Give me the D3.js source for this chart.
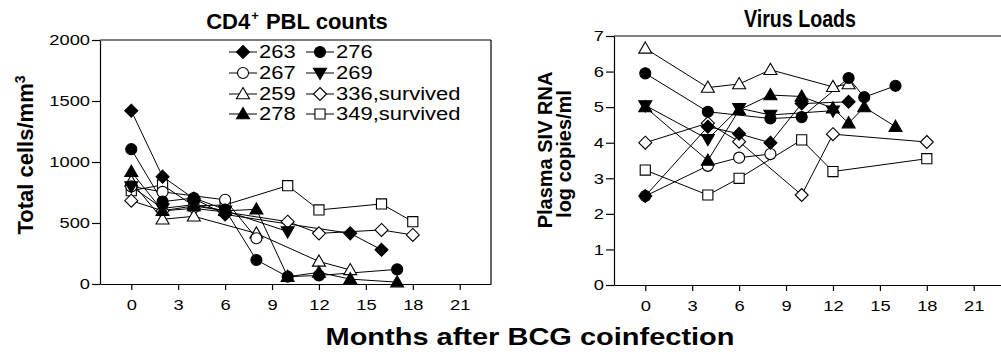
<!DOCTYPE html>
<html>
<head>
<meta charset="utf-8">
<script src="https://cdn.jsdelivr.net/npm/d3@7/dist/d3.min.js"></script>
<style>
  html, body { margin: 0; padding: 0; background: #fff; }
  svg { display: block; font-family: "Liberation Sans", Arial, sans-serif; }
</style>
</head>
<body>
<script>
// Tick labels
const monthTicks = [0, 3, 6, 9, 12, 15, 18, 21]
const cd4Ticks = [0, 500, 1000, 1500, 2000]
const rnaTicks = [0, 1, 2, 3, 4, 5, 6, 7]

// Animals (legend order) and marker style
const animals = ['263', '267', '259', '278', '276', '269', '336,survived', '349,survived']
const markers = ['diamond', 'circle', 'triangle', 'triangle', 'circle', 'triangleDown', 'diamond', 'square']
const filled = [true, false, false, true, true, true, false, false]

// CD4+ PBL counts: [month, cells/mm3]
const cd4_263 = [[0, 1420], [2, 880], [4, 700], [6, 570], [14, 415], [16, 280]]
const cd4_267 = [[0, 800], [2, 755], [6, 690], [8, 375]]
const cd4_259 = [[0, 840], [2, 530], [4, 555], [8, 415], [12, 185], [14, 115]]
const cd4_278 = [[0, 920], [2, 600], [4, 640], [6, 600], [8, 612], [10, 60], [12, 95], [14, 40], [17, 15]]
const cd4_276 = [[0, 1105], [2, 675], [4, 705], [6, 610], [8, 197], [10, 60], [12, 70], [17, 120]]
const cd4_269 = [[0, 800], [2, 620], [4, 650], [6, 600], [10, 430]]
const cd4_336 = [[0, 683], [2, 600], [4, 620], [6, 590], [10, 511], [12, 415], [16, 443], [18, 402]]
const cd4_349 = [[0, 765], [2, 812], [4, 640], [6, 648], [10, 806], [12, 607], [16, 656], [18, 511]]

// Plasma SIV RNA: [month, log copies/ml]
const rna_263 = [[0, 2.5], [4, 4.45], [6, 4.25], [8, 4.0], [10, 5.1], [13, 5.15]]
const rna_267 = [[0, 2.5], [4, 3.35], [6, 3.58], [8, 3.68]]
const rna_259 = [[0, 6.65], [4, 5.55], [6, 5.65], [8, 6.05], [12, 5.57], [13, 5.65]]
const rna_278 = [[0, 5.0], [4, 3.5], [6, 4.92], [8, 5.34], [10, 5.3], [12, 4.97], [13, 4.55], [14, 5.0], [16, 4.45]]
const rna_276 = [[0, 5.95], [4, 4.87], [8, 4.68], [10, 4.72], [13, 5.82], [14, 5.28], [16, 5.6]]
const rna_269 = [[0, 5.05], [4, 4.1], [6, 4.97], [8, 4.78], [12, 4.9]]
const rna_336 = [[0, 4.0], [4, 4.55], [6, 4.03], [10, 2.53], [12, 4.24], [18, 4.02]]
const rna_349 = [[0, 3.23], [4, 2.53], [6, 3.0], [10, 4.08], [12, 3.19], [18, 3.55]]

const cd4Series = [cd4_263, cd4_267, cd4_259, cd4_278, cd4_276, cd4_269, cd4_336, cd4_349]
const rnaSeries = [rna_263, rna_267, rna_259, rna_278, rna_276, rna_269, rna_336, rna_349]

const W = 1001, H = 360
const WIDE = 1.22 // horizontal text in the scan is a bit stretched

const svg = d3.select('body').append('svg')
  .attr('width', W)
  .attr('height', H)

function stretch(sel, k) {
  sel.each(function () {
    const len = this.getComputedTextLength()
    d3.select(this).attr('textLength', len * k).attr('lengthAdjust', 'spacingAndGlyphs')
  })
}

// custom marker shapes, size = half extent
const shapes = {
  diamond: { draw(ctx, r) { ctx.moveTo(0, -r); ctx.lineTo(r, 0); ctx.lineTo(0, r); ctx.lineTo(-r, 0); ctx.closePath() } },
  circle: { draw(ctx, r) { const c = r * 0.85; ctx.moveTo(c, 0); ctx.arc(0, 0, c, 0, 2 * Math.PI) } },
  triangle: { draw(ctx, r) { ctx.moveTo(0, -r); ctx.lineTo(r, r * 0.72); ctx.lineTo(-r, r * 0.72); ctx.closePath() } },
  triangleDown: { draw(ctx, r) { ctx.moveTo(0, r); ctx.lineTo(r, -r * 0.72); ctx.lineTo(-r, -r * 0.72); ctx.closePath() } },
  square: { draw(ctx, r) { const s = r * 0.78; ctx.rect(-s, -s, 2 * s, 2 * s) } }
}
const markerPath = i => d3.symbol().type(shapes[markers[i]]).size(6.5)()

function drawPanel(x, y, yTicks, series) {
  const g = svg.append('g')

  // frame
  const [x0, x1] = x.range()
  const [yb, yt] = y.range()
  g.append('line')
    .attr('x1', x0).attr('x2', x1).attr('y1', yt).attr('y2', yt)
    .attr('stroke', '#000').attr('stroke-width', 1.2)
  g.append('line')
    .attr('x1', x1).attr('x2', x1).attr('y1', yt).attr('y2', yb)
    .attr('stroke', '#000').attr('stroke-width', 1.2)

  const yAxis = g.append('g')
    .attr('transform', `translate(${x0},0)`)
    .call(d3.axisLeft(y).tickValues(yTicks).tickFormat(d3.format('d'))
      .tickSize(8).tickPadding(2).tickSizeOuter(0))
  const xAxis = g.append('g')
    .attr('transform', `translate(0,${yb})`)
    .call(d3.axisBottom(x).tickValues(monthTicks).tickFormat(d3.format('d'))
      .tickSize(6).tickPadding(9).tickSizeOuter(0))

  ;[yAxis, xAxis].forEach(a => {
    a.selectAll('path, line').attr('stroke', '#000').attr('stroke-width', 1.2)
    a.selectAll('text')
      .attr('fill', '#000')
      .style('font-size', '15px')
      .style('font-family', '"Liberation Sans", Arial, sans-serif')
      .call(stretch, WIDE)
  })

  const line = d3.line().x(d => x(d[0])).y(d => y(d[1]))

  // lines first, then open markers, then filled ones on top
  g.selectAll('path.series')
    .data(series)
    .join('path')
    .attr('class', 'series')
    .attr('d', line)
    .attr('fill', 'none')
    .attr('stroke', '#000')
    .attr('stroke-width', 1)

  const order = [7, 6, 2, 1, 0, 4, 5, 3]
  order.forEach(i => {
    g.selectAll(null)
      .data(series[i])
      .join('path')
      .attr('transform', d => `translate(${x(d[0])},${y(d[1])})`)
      .attr('d', markerPath(i))
      .attr('fill', filled[i] ? '#000' : '#fff')
      .attr('stroke', '#000')
      .attr('stroke-width', 1.1)
  })
}

const xL = d3.scaleLinear().domain([-2, 23]).range([100, 491])
const yL = d3.scaleLinear().domain([0, 2000]).range([284, 40])
const xR = d3.scaleLinear().domain([-2, 23]).range([614, 1005])
const yR = d3.scaleLinear().domain([0, 7]).range([285, 36])

drawPanel(xL, yL, cd4Ticks, cd4Series)
drawPanel(xR, yR, rnaTicks, rnaSeries)

// Legend
const legend = svg.append('g')
const legendCols = [243, 320]
const legendRows = [52, 73, 94, 114]
animals.forEach((name, i) => {
  const cx = legendCols[Math.floor(i / 4)]
  const cy = legendRows[i % 4]
  const item = legend.append('g').attr('transform', `translate(${cx},${cy})`)
  item.append('line')
    .attr('x1', -14).attr('x2', 14)
    .attr('stroke', '#000').attr('stroke-width', 1)
  item.append('path')
    .attr('d', markerPath(i))
    .attr('fill', filled[i] ? '#000' : '#fff')
    .attr('stroke', '#000')
    .attr('stroke-width', 1.1)
  item.append('text')
    .attr('x', 16)
    .attr('y', 6)
    .style('font-size', '18px')
    .text(name)
    .call(stretch, WIDE)
})

// Titles
const t1 = svg.append('text')
  .attr('x', 297).attr('y', 29)
  .attr('text-anchor', 'middle')
  .style('font-size', '22px').style('font-weight', 'bold')
t1.append('tspan').text('CD4')
t1.append('tspan').attr('dx', 1).attr('dy', -9).style('font-size', '13px').text('+')
t1.append('tspan').attr('dx', 1).attr('dy', 9).text(' PBL counts')

svg.append('text')
  .attr('x', 800).attr('y', 27)
  .attr('text-anchor', 'middle')
  .attr('textLength', 112)
  .attr('lengthAdjust', 'spacingAndGlyphs')
  .style('font-size', '24px').style('font-weight', 'bold')
  .text('Virus Loads')

// Axis titles
const yl = svg.append('text')
  .attr('transform', 'translate(33,155) rotate(-90)')
  .attr('text-anchor', 'middle')
  .style('font-size', '22px').style('font-weight', 'bold')
yl.append('tspan').text('Total cells/mm')
yl.append('tspan').attr('baseline-shift', 'super').style('font-size', '14px').text('3')

svg.append('text')
  .attr('transform', 'translate(552,150) rotate(-90)')
  .attr('text-anchor', 'middle')
  .style('font-size', '20px').style('font-weight', 'bold')
  .text('Plasma SIV RNA')
svg.append('text')
  .attr('transform', 'translate(571,154) rotate(-90)')
  .attr('text-anchor', 'middle')
  .style('font-size', '20px').style('font-weight', 'bold')
  .text('log copies/ml')

svg.append('text')
  .attr('x', 530).attr('y', 345)
  .attr('text-anchor', 'middle')
  .attr('textLength', 409)
  .attr('lengthAdjust', 'spacingAndGlyphs')
  .style('font-size', '24px').style('font-weight', 'bold')
  .text('Months after BCG coinfection')
</script>
</body>
</html>
